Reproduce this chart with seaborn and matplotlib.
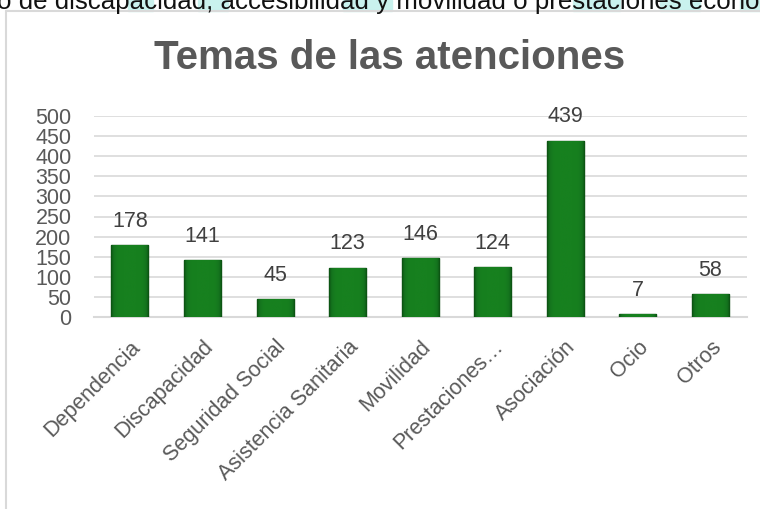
import matplotlib
matplotlib.use("Agg")
import matplotlib.pyplot as plt
import seaborn as sns
import pandas as pd
import numpy as np
from matplotlib.patches import Rectangle
from matplotlib.lines import Line2D
from matplotlib.colors import LinearSegmentedColormap

# Datos del gráfico
temas = ['Dependencia', 'Discapacidad', 'Seguridad Social', 'Asistencia Sanitaria',
         'Movilidad', 'Prestaciones…', 'Asociación', 'Ocio', 'Otros']
atenciones = [178, 141, 45, 123, 146, 124, 439, 7, 58]
y_ticks = [0, 50, 100, 150, 200, 250, 300, 350, 400, 450, 500]

df = pd.DataFrame({'tema': temas, 'n': atenciones})

sns.set_style('white')
plt.rcParams['font.family'] = ['Liberation Sans', 'DejaVu Sans']

fig = plt.figure(figsize=(7.6, 5.09), dpi=100)

# texto recortado del documento, arriba
for x0, x1 in [(128, 153), (198, 228), (343, 392), (573, 620), (660, 700), (740, 760)]:
    fig.patches.append(Rectangle((x0 / 760, 1 - 11 / 509), (x1 - x0) / 760, 11 / 509,
                                 transform=fig.transFigure, color='#c9f2ee', zorder=0))
fig.text(-0.004, 1 - 9 / 509, 'o de discapacidad, accesibilidad y movilidad o prestaciones econó',
         fontsize=18.6, color='#111111', va='baseline', ha='left')

# marco del gráfico
fig.add_artist(Line2D([6 / 760, 6 / 760], [0, 1 - 11 / 509], transform=fig.transFigure,
                      color='#d9d9d9', lw=1.5))
fig.add_artist(Line2D([6 / 760, 1], [1 - 11 / 509, 1 - 11 / 509], transform=fig.transFigure,
                      color='#d9d9d9', lw=1.5))

ax = fig.add_axes([93.7 / 760, 192 / 509, 653 / 760, 201 / 509])
sns.barplot(data=df, x='tema', y='n', ax=ax, color='#177d22', width=0.51,
            edgecolor='#0b4a10', linewidth=1, saturation=1, zorder=3)

ax.set_ylim(0, 500)
ax.set_yticks(y_ticks)
ax.grid(axis='y', color='#d9d9d9', lw=1.2, zorder=0)
ax.set_axisbelow(True)
for s in ['top', 'right', 'left']:
    ax.spines[s].set_visible(False)
ax.spines['bottom'].set_color('#d9d9d9')
ax.spines['bottom'].set_linewidth(1.5)
ax.tick_params(axis='both', length=0, labelsize=15.5, labelcolor='#595959')
ax.tick_params(axis='y', pad=16)
ax.set_xlabel('')
ax.set_ylabel('')
plt.setp(ax.get_xticklabels(), rotation=45, ha='right', rotation_mode='anchor')
ax.tick_params(axis='x', pad=14)

# efecto biselado de las barras
bevel = LinearSegmentedColormap.from_list('bevel', ['#0b4f11', '#13701d', '#17801f'])
grad = 1 - np.abs(np.linspace(-1, 1, 64))[None, :] ** 6
for p in ax.patches:
    x0, w, h = p.get_x(), p.get_width(), p.get_height()
    im = ax.imshow(grad, cmap=bevel, aspect='auto', extent=(x0, x0 + w, 0, h),
                   zorder=3.5, vmin=0, vmax=1, interpolation='bicubic')
    im.set_clip_path(p)
ax.set_xlim(-0.5, len(temas) - 0.5)
ax.set_ylim(0, 500)

for p, v in zip(ax.patches, atenciones):
    ax.annotate(str(v), (p.get_x() + p.get_width() / 2, v), xytext=(0, 17),
                textcoords='offset points', ha='center', va='center',
                fontsize=15.5, color='#404040')

fig.text(0.512, 1 - 58 / 509, 'Temas de las atenciones', fontsize=29, fontweight='bold',
         color='#595959', ha='center', va='center')

fig.savefig('out.png', dpi=100)
